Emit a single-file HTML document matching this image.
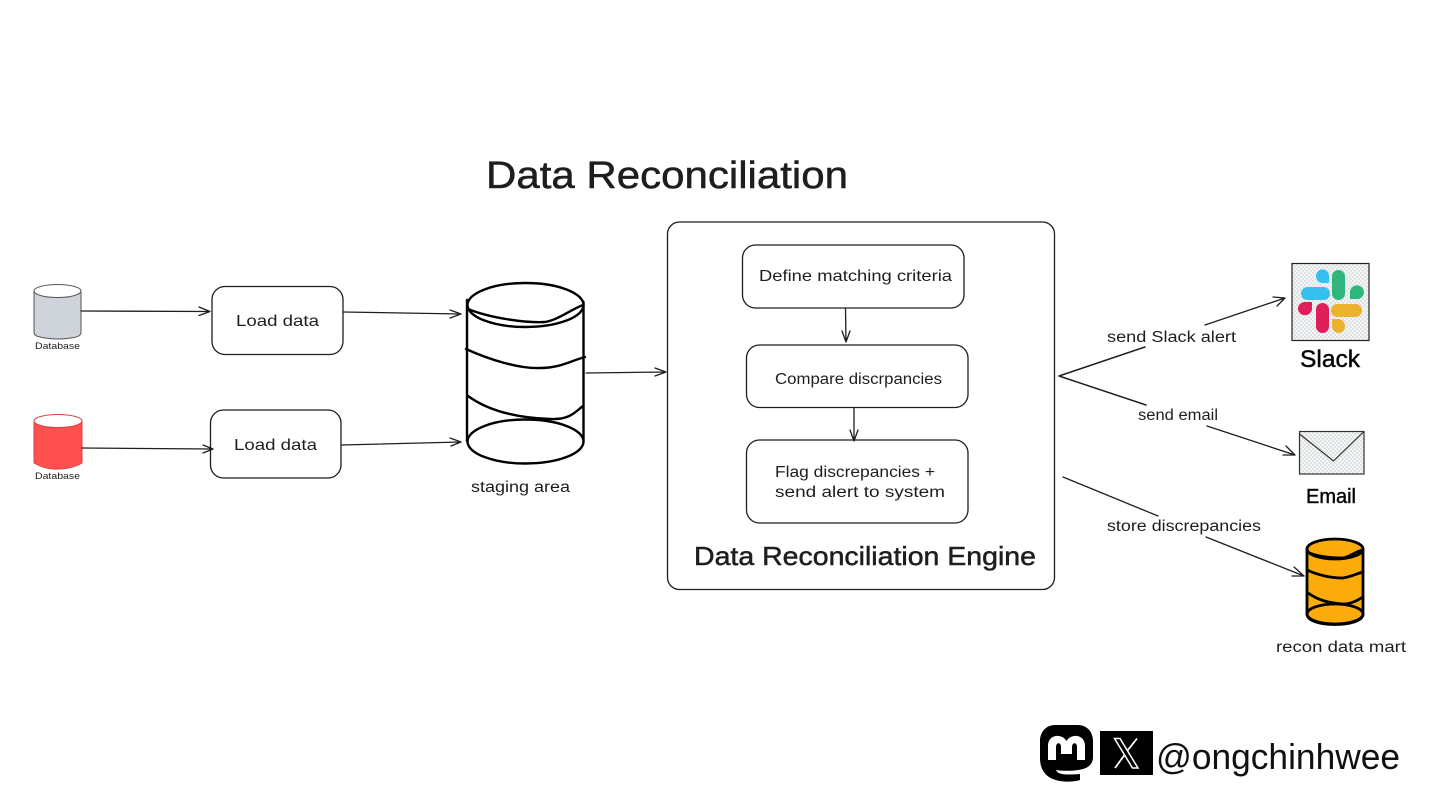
<!DOCTYPE html>
<html lang="en">
<head>
<meta charset="utf-8">
<title>Data Reconciliation</title>
<style>
html,body{margin:0;padding:0;background:#fff;}
svg{display:block;}
text{font-family:"Liberation Sans",sans-serif;fill:#1e1e1e;}
.h{stroke:#1e1e1e;stroke-width:.5;}
.l{fill:none;stroke:#1e1e1e;stroke-width:1.3;stroke-linecap:round;stroke-linejoin:round;}
.b{fill:#fff;stroke:#1e1e1e;stroke-width:1.3;}
.c{stroke:#000;stroke-width:2.4;stroke-linecap:round;stroke-linejoin:round;}
.o{stroke:#000;stroke-width:2.8;stroke-linecap:round;stroke-linejoin:round;}
</style>
</head>
<body>
<svg width="1440" height="810" viewBox="0 0 1440 810" xmlns="http://www.w3.org/2000/svg">
<defs>
<pattern id="h" width="4" height="4" patternUnits="userSpaceOnUse">
<rect width="4" height="4" fill="#f4f5f5"/>
<rect width="2" height="2" fill="#dfe2e4"/>
<rect x="2" y="2" width="2" height="2" fill="#dfe2e4"/>
</pattern>
</defs>
<rect width="1440" height="810" fill="#fff"/>

<text class="h" x="486" y="188" font-size="38" textLength="362" lengthAdjust="spacingAndGlyphs">Data Reconciliation</text>

<!-- source DBs -->
<path d="M34,291 V332 Q34,336 40,337 Q58,341 76,337 Q81,336 81,332 V291 Z" fill="#ced4da" stroke="#555" stroke-width="1"/>
<ellipse cx="57.5" cy="291" rx="23.5" ry="6.5" fill="#fff" stroke="#555" stroke-width="1"/>
<text x="35" y="349" font-size="9.5" textLength="45" lengthAdjust="spacingAndGlyphs">Database</text>

<path d="M34,421 V463 Q46,470 58,469 Q72,469 82,463 V421 Z" fill="#ff5050" stroke="#e04040" stroke-width="1"/>
<ellipse cx="58" cy="421" rx="24" ry="6.5" fill="#fff" stroke="#d84040" stroke-width="1"/>
<text x="35" y="479" font-size="9.5" textLength="45" lengthAdjust="spacingAndGlyphs">Database</text>

<!-- Load data -->
<rect class="b" x="212" y="286.5" width="131" height="68" rx="13"/>
<text x="236" y="326" font-size="16" textLength="83" lengthAdjust="spacingAndGlyphs">Load data</text>
<rect class="b" x="210.5" y="410" width="130.5" height="68" rx="13"/>
<text x="234" y="450" font-size="16" textLength="83" lengthAdjust="spacingAndGlyphs">Load data</text>

<!-- arrows left -->
<path class="l" d="M81,311 L210,311.5 M199,307 L210,311.5 L199,315.5"/>
<path class="l" d="M82,448 L213,449 M203,445 L213,449 L203,453"/>
<path class="l" d="M343,312 L461,314 M450,310 L461,314 L450,318"/>
<path class="l" d="M341,445 L461,442 M450,438 L461,442 L451,446"/>
<path class="l" d="M586,373 L666,372 M655,368 L666,372 L655,376"/>

<!-- staging area -->
<g fill="none" class="c">
<ellipse cx="525.5" cy="305" rx="58" ry="22"/>
<ellipse cx="525.5" cy="441.5" rx="58" ry="22"/>
<path d="M467,300 V441 M583.5,302 V441"/>
<path d="M468,309 C490,318 525,323 545,322 C558,320 570,310 583,305"/>
<path d="M466,349 C490,360 520,369 540,368 C560,368 570,361 585,357"/>
<path d="M468,396 C490,412 520,418 550,419 C570,420 575,412 583,406"/>
</g>
<text x="471" y="492" font-size="15.5" textLength="99" lengthAdjust="spacingAndGlyphs">staging area</text>

<!-- engine -->
<rect class="b" x="667.5" y="222" width="387" height="367.5" rx="12"/>
<rect class="b" x="742.5" y="245" width="221.5" height="63" rx="13"/>
<text x="759" y="281" font-size="16" textLength="193" lengthAdjust="spacingAndGlyphs">Define matching criteria</text>
<rect class="b" x="746.5" y="345" width="221.5" height="62.5" rx="13"/>
<text x="775" y="384" font-size="15.5" textLength="167" lengthAdjust="spacingAndGlyphs">Compare discrpancies</text>
<rect class="b" x="746.5" y="440" width="221.5" height="83" rx="13"/>
<text x="775" y="477" font-size="15.5" textLength="160" lengthAdjust="spacingAndGlyphs">Flag discrepancies +</text>
<text x="775" y="497" font-size="15.5" textLength="170" lengthAdjust="spacingAndGlyphs">send alert to system</text>
<text class="h" x="694" y="565" font-size="26" textLength="342" lengthAdjust="spacingAndGlyphs">Data Reconciliation Engine</text>
<path class="l" d="M845.5,308 L846,342 M842,331 L846,342 L850,331"/>
<path class="l" d="M854,408 L854,441 M850,430 L854,441 L858,430"/>

<!-- outgoing -->
<path class="l" style="stroke-width:1.5" d="M1145,347 L1059,376 L1146,405"/>
<path class="l" d="M1205,325 L1285,298 M1273,297 L1285,298 L1277,306"/>
<path class="l" d="M1207,426 L1295,455 M1286,446 L1295,455 L1283,455"/>
<path class="l" d="M1063,477 L1158,516"/>
<path class="l" d="M1206,537 L1304,576 M1294,567 L1304,576 L1292,576"/>
<text x="1107" y="342" font-size="15.5" textLength="129" lengthAdjust="spacingAndGlyphs">send Slack alert</text>
<text x="1138" y="420" font-size="15.5" textLength="80" lengthAdjust="spacingAndGlyphs">send email</text>
<text x="1107" y="531" font-size="15.5" textLength="154" lengthAdjust="spacingAndGlyphs">store discrepancies</text>

<!-- slack -->
<rect x="1292" y="263.5" width="77" height="77" fill="url(#h)" stroke="#222" stroke-width="1.2"/>
<rect x="1301" y="287" width="29" height="13" rx="6.5" fill="#36c0f0"/>
<path d="M1329,283 H1322.5 A6.5,6.8 0 1 1 1329,276 Z" fill="#36c0f0"/>
<rect x="1332" y="270" width="13" height="30" rx="6.5" fill="#2eb67d"/>
<path d="M1350,299 V291.500 A7,6.8 0 1 1 1357,299 Z" fill="#2eb67d"/>
<path d="M1312,302 V309 A7,6.6 0 1 1 1305,302 Z" fill="#e01e5a"/>
<rect x="1316" y="303" width="13" height="30" rx="6.5" fill="#e01e5a"/>
<rect x="1331" y="304" width="31" height="13" rx="6.5" fill="#ecb22e"/>
<path d="M1332,319 H1338 A6.5,7 0 1 1 1332,326 Z" fill="#ecb22e"/>
<text class="h" x="1300" y="367" font-size="24" textLength="60" lengthAdjust="spacingAndGlyphs" style="fill:#000">Slack</text>

<!-- email -->
<rect x="1299.5" y="431.5" width="64.5" height="42.5" fill="url(#h)" stroke="#333" stroke-width="1.2"/>
<path d="M1299.5,434 L1333.5,461 L1364,431.5" fill="none" stroke="#333" stroke-width="1.2"/>
<text class="h" x="1306" y="503" font-size="20" textLength="50" lengthAdjust="spacingAndGlyphs" style="fill:#000">Email</text>

<!-- recon data mart -->
<path class="o" fill="#fbac0a" d="M1307,549 V614 C1307,628 1363,628 1363,614 V549 Z"/>
<ellipse class="o" fill="#fbac0a" cx="1335" cy="549" rx="28" ry="10"/>
<ellipse class="o" fill="#fbac0a" cx="1335" cy="614" rx="28" ry="10"/>
<g class="o" fill="none">
<path d="M1307,552 C1318,557 1330,558 1343,558 C1350,557 1356,551 1363,550"/>
<path d="M1307,570 C1318,575 1330,578 1343,578 C1350,577 1356,574 1363,572"/>
<path d="M1308,593 C1318,600 1328,603 1343,604 C1352,604 1358,600 1363,597"/>
</g>
<text x="1276" y="652" font-size="15.5" textLength="130" lengthAdjust="spacingAndGlyphs">recon data mart</text>

<!-- footer -->
<path d="M1055,725 H1078 C1087,725 1093,732 1093,741 V757 C1093,765 1087,769 1078,770 C1071,771 1063,771 1056,770 C1058,775 1066,775 1080,774 V780 C1074,782 1066,782 1060,781 C1048,779 1040,772 1040,758 V741 C1040,732 1046,725 1055,725 Z" fill="#000"/>
<path d="M1048,760 V746 C1048,734 1062,733 1066.5,741 C1071,733 1085,734 1085,746 V760 H1077 V747 C1077,742 1072,742 1072,747 V754 H1061 V747 C1061,742 1056,742 1056,747 V760 Z" fill="#fff"/>
<rect x="1100" y="731" width="53" height="44" fill="#000"/>
<path d="M1114.5,738.5 L1120,738.5 L1138,768 L1132.5,768 Z" fill="none" stroke="#fff" stroke-width="1.5"/>
<path d="M1137,738.5 L1127.5,750.5 M1124.5,755 L1115,768" fill="none" stroke="#fff" stroke-width="1.8"/>
<text x="1156" y="769" font-size="36" textLength="244" lengthAdjust="spacingAndGlyphs" style="fill:#111">@ongchinhwee</text>
</svg>
</body>
</html>
